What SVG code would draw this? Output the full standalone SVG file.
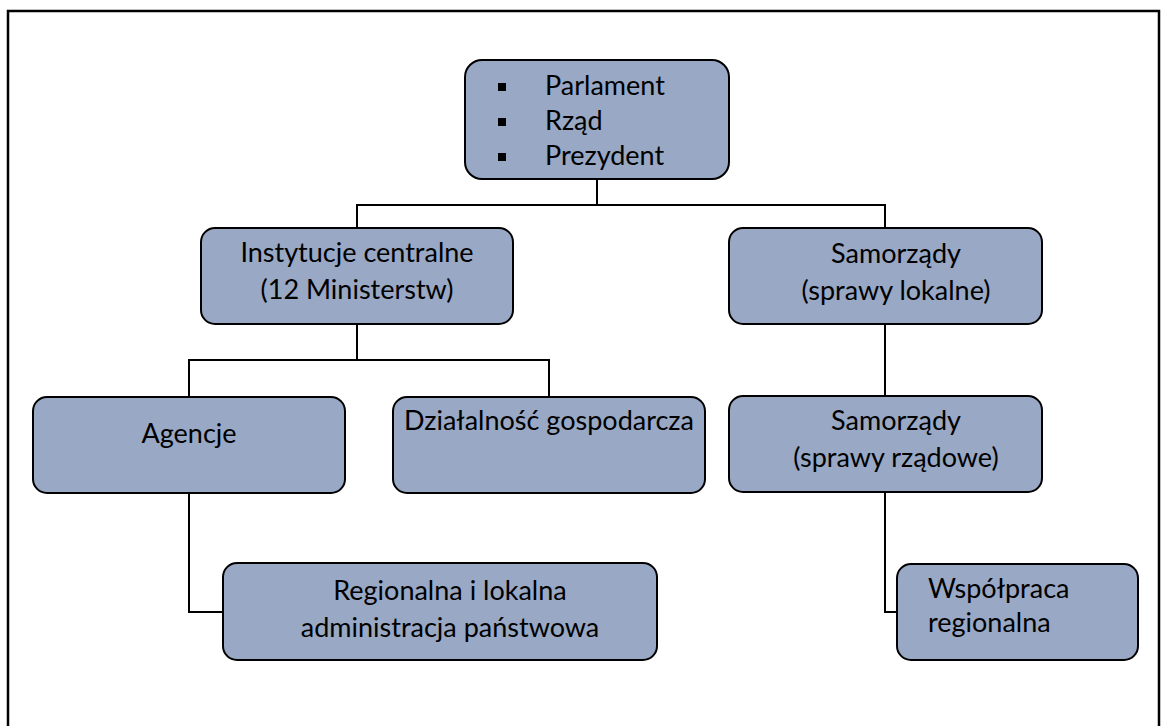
<svg xmlns="http://www.w3.org/2000/svg" width="1163" height="726" viewBox="0 0 1163 726">
<style>
.box{fill:#98A8C5;stroke:#000;stroke-width:2}
.t{font-family:Lato,"Liberation Sans",sans-serif;font-size:27px;fill:#000}
.c{text-anchor:middle}
.ln{fill:none;stroke:#000;stroke-width:2}
</style>
<rect x="0" y="0" width="1163" height="726" fill="#fff"/>
<path d="M8 740 V11 H1159 V740" fill="none" stroke="#000" stroke-width="2.5"/>
<g id="connectors" class="ln">
<path d="M597 179 V205 M357 229 V205 H885 V229"/>
<path d="M357 324 V360 M189 397 V360 H549 V397"/>
<path d="M885 324 V396"/>
<path d="M189 493 V612 H223"/>
<path d="M885 492 V612 H897"/>
</g>
<g id="top">
<rect class="box" x="465" y="60" width="264" height="119" rx="17"/>
<rect x="498" y="83" width="8" height="8"/>
<rect x="498" y="118" width="8" height="8"/>
<rect x="498" y="153" width="8" height="8"/>
<text class="t" x="545" y="95">Parlament</text>
<text class="t" x="545" y="130">Rząd</text>
<text class="t" x="545" y="165">Prezydent</text>
</g>
<g id="instytucje">
<rect class="box" x="201" y="228" width="312" height="96" rx="14"/>
<text class="t c" x="357" y="262">Instytucje centralne</text>
<text class="t c" x="357" y="299">(12 Ministerstw)</text>
</g>
<g id="samorzady-lokalne">
<rect class="box" x="729" y="228" width="313" height="96" rx="14"/>
<text class="t c" x="896" y="263">Samorządy</text>
<text class="t c" x="896" y="300">(sprawy lokalne)</text>
</g>
<g id="agencje">
<rect class="box" x="33" y="397" width="312" height="96" rx="14"/>
<text class="t c" x="189" y="443">Agencje</text>
</g>
<g id="dzialalnosc">
<rect class="box" x="393" y="397" width="312" height="96" rx="14"/>
<text class="t c" x="549" y="430">Działalność gospodarcza</text>
</g>
<g id="samorzady-rzadowe">
<rect class="box" x="729" y="396" width="313" height="96" rx="14"/>
<text class="t c" x="896" y="430">Samorządy</text>
<text class="t c" x="896" y="467">(sprawy rządowe)</text>
</g>
<g id="regionalna">
<rect class="box" x="223" y="563" width="434" height="97" rx="14"/>
<text class="t c" x="450" y="600">Regionalna i lokalna</text>
<text class="t c" x="450" y="637">administracja państwowa</text>
</g>
<g id="wspolpraca">
<rect class="box" x="897" y="564" width="241" height="96" rx="14"/>
<text class="t" x="928" y="598">Współpraca</text>
<text class="t" x="928" y="632">regionalna</text>
</g>
</svg>
